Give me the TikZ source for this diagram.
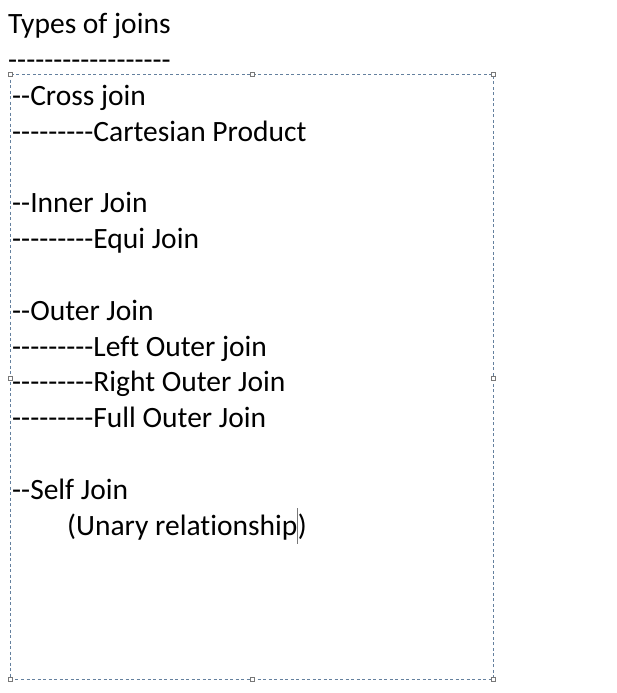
\documentclass[tikz,border=0pt]{standalone}
\usepackage{fontspec}
\newfontfamily\joinfont{Carlito}[Ligatures = {NoCommon}]
\usepackage{tikz}

\definecolor{selBlue}{RGB}{100,128,158}
\definecolor{handleGray}{RGB}{120,120,120}

\tikzstyle{joinMain} = [anchor = base west,
                        inner sep = 0pt,
                        font = \joinfont\fontsize{29.5}{36}\selectfont
                        ]
\tikzstyle{selHandle} = [draw = handleGray,
                         fill = white,
                         line width = 0.6pt,
                         minimum size = 4pt,
                         inner sep = 0pt
                         ]

\begin{document}
\begin{tikzpicture}[x = 1pt, y = -1pt]

    \useasboundingbox (0, 0) rectangle (616, 693);

    %%% Heading
    \node (T) at (8, 33.5) [joinMain]{Types of joins};
    \node (TD) at (8, 69.5) [joinMain]{------------------};

    %%% Selection box
    \coordinate (BL) at (10, 74);
    \coordinate (BR) at (493, 679);
    \draw[selBlue, line width = 0.7pt, dash pattern = on 3pt off 2.5pt] (BL) rectangle (BR);

        % Handles
        \foreach \hx/\hy [count=\i] in {10/74, 252/74, 493/74, 10/378, 493/378, 10/679, 252/679, 493/679}
            \node (H\i) at (\hx, \hy) [selHandle]{};

    %%% Join types
    % Cross %
    \node (CJ) at (12, 105.5) [joinMain]{--Cross join};
    \node (CP) at (12, 141.3) [joinMain]{---------Cartesian Product};

    % Inner %
    \node (IJ) at (12, 212.9) [joinMain]{--Inner Join};
    \node (EJ) at (12, 248.7) [joinMain]{---------Equi Join};

    % Outer %
    \node (OJ) at (12, 320.3) [joinMain]{--Outer Join};
    \node (LO) at (12, 356.1) [joinMain]{---------Left Outer join};
    \node (RO) at (12, 391.9) [joinMain]{---------Right Outer Join};
    \node (FO) at (12, 427.7) [joinMain]{---------Full Outer Join};

    % Self %
    \node (SJ) at (12, 499.3) [joinMain]{--Self Join};
    \node (UR) at (67, 535.1) [joinMain]{(Unary relationship};
    \node (URc) at (UR.base east) [joinMain]{)};

        % Cursor
        \draw[handleGray, line width = 0.6pt] ([yshift = 27pt]UR.base east) -- ([yshift = -9pt]UR.base east);

\end{tikzpicture}
\end{document}
